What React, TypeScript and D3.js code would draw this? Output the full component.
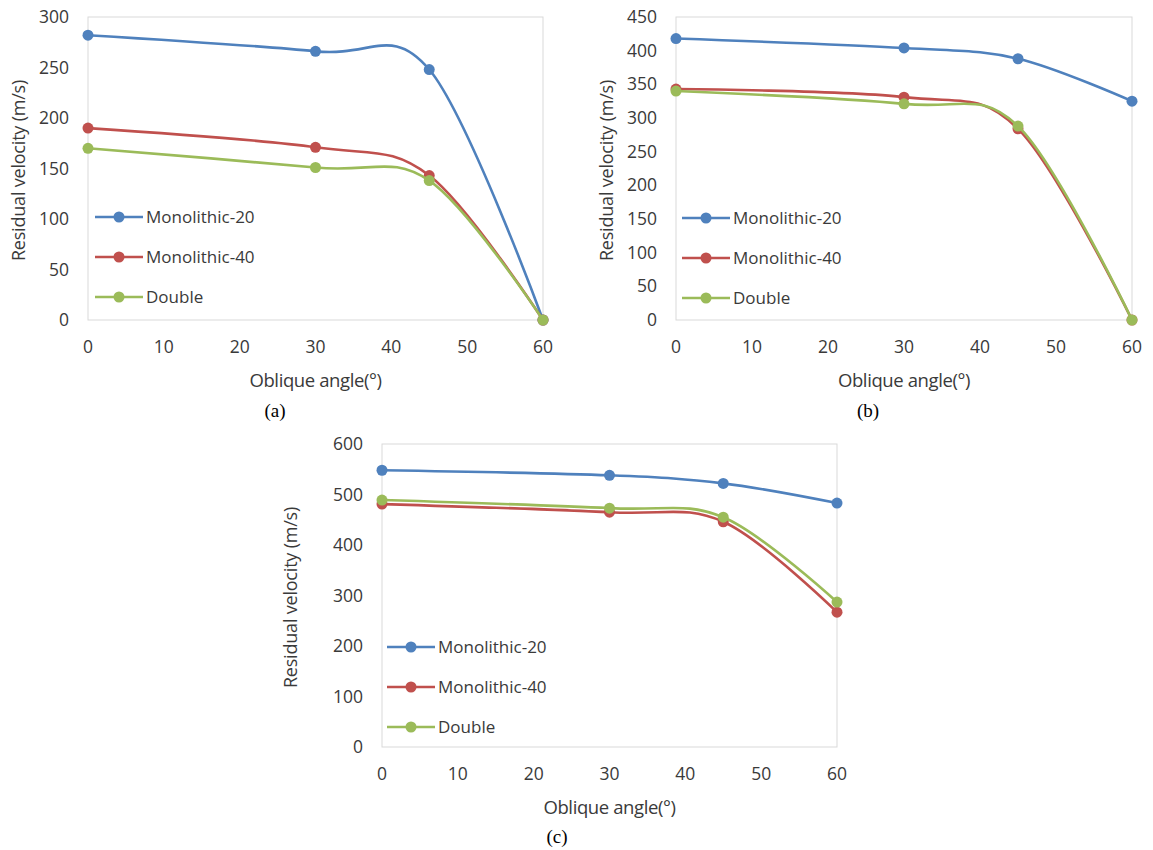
import React from "react";
import * as d3 from "d3";

// ---- Data ----
const angles = [0, 30, 45, 60];
const seriesNames = ["Monolithic-20", "Monolithic-40", "Double"];
const seriesColors = ["#4F81BD", "#C0504D", "#9BBB59"];

const mono20A = [282, 266, 248, 0];
const mono40A = [190, 171, 143, 0];
const doubleA = [170, 151, 138, 0];

const mono20B = [418, 404, 388, 325];
const mono40B = [343, 331, 284, 0];
const doubleB = [340, 321, 288, 0];

const mono20C = [548, 538, 522, 483];
const mono40C = [481, 465, 446, 267];
const doubleC = [489, 473, 455, 287];

const xTicks = [0, 10, 20, 30, 40, 50, 60];
const yTicksA = [0, 50, 100, 150, 200, 250, 300];
const yTicksB = [0, 50, 100, 150, 200, 250, 300, 350, 400, 450];
const yTicksC = [0, 100, 200, 300, 400, 500, 600];

const xTitle = "Oblique angle(°)";
const yTitle = "Residual velocity (m/s)";

type Panel = {
  label: string;
  x0: number; x1: number; y0: number; y1: number;
  yMax: number; yTicks: number[];
  series: number[][];
  legendX: number; legendY: number;
  yTitleX: number;
  labelX: number; labelY: number;
};

const panels: Panel[] = [
  { label: "(a)", x0: 88, x1: 543, y0: 17, y1: 320, yMax: 300, yTicks: yTicksA,
    series: [mono20A, mono40A, doubleA], legendX: 95, legendY: 217, yTitleX: 19, labelX: 275, labelY: 410 },
  { label: "(b)", x0: 676, x1: 1132, y0: 17, y1: 320, yMax: 450, yTicks: yTicksB,
    series: [mono20B, mono40B, doubleB], legendX: 682, legendY: 218, yTitleX: 607, labelX: 868, labelY: 410 },
  { label: "(c)", x0: 382, x1: 837, y0: 444, y1: 747, yMax: 600, yTicks: yTicksC,
    series: [mono20C, mono40C, doubleC], legendX: 387, legendY: 647, yTitleX: 291, labelX: 557, labelY: 836 },
];

const FONT = "'Open Sans', 'Noto Sans', sans-serif";
const TEXT = "#3a3a3a";

function PanelChart({ p }: { p: Panel }) {
  const x = d3.scaleLinear().domain([0, 60]).range([p.x0, p.x1]);
  const y = d3.scaleLinear().domain([0, p.yMax]).range([p.y1, p.y0]);
  const line = d3
    .line<[number, number]>()
    .x((d) => x(d[0]))
    .y((d) => y(d[1]))
    .curve(d3.curveCardinal.tension(0));
  const cy = (p.y0 + p.y1) / 2 + 2;
  return (
    <g>
      <rect x={p.x0} y={p.y0} width={p.x1 - p.x0} height={p.y1 - p.y0} fill="none" stroke="#D9D9D9" strokeWidth={1} />
      {p.yTicks.map((t) => (
        <text key={"y" + t} x={p.x0 - 19} y={y(t)} dy="0.35em" textAnchor="end" fontSize={17.5} fill={TEXT} fontFamily={FONT}>
          {t}
        </text>
      ))}
      {xTicks.map((t) => (
        <text key={"x" + t} x={x(t)} y={p.y1 + 27} dy="0.35em" textAnchor="middle" fontSize={17.5} fill={TEXT} fontFamily={FONT}>
          {t}
        </text>
      ))}
      <text x={(p.x0 + p.x1) / 2} y={p.y1 + 61} dy="0.35em" textAnchor="middle" fontSize={18.5} fill={TEXT} fontFamily={FONT} letterSpacing={-0.4}>
        {xTitle}
      </text>
      <text transform={`translate(${p.yTitleX},${cy}) rotate(-90)`} dy="0.35em" textAnchor="middle" fontSize={18} fill={TEXT} fontFamily={FONT} letterSpacing={-0.2}>
        {yTitle}
      </text>
      <text x={p.labelX} y={p.labelY} textAnchor="middle" fontSize={19} fill="#000" fontFamily="'Liberation Serif', 'DejaVu Serif', serif" dy="0.35em">
        {p.label}
      </text>
      {p.series.map((vals, i) => {
        const pts = angles.map((a, k) => [a, vals[k]] as [number, number]);
        return (
          <g key={"s" + i}>
            <path d={line(pts) || ""} fill="none" stroke={seriesColors[i]} strokeWidth={2.6} />
            {pts.map((d, k) => (
              <circle key={k} cx={x(d[0])} cy={y(d[1])} r={5.5} fill={seriesColors[i]} />
            ))}
          </g>
        );
      })}
      {seriesNames.map((n, i) => {
        const ly = p.legendY + i * 40;
        return (
          <g key={"l" + i}>
            <line x1={p.legendX} x2={p.legendX + 48} y1={ly} y2={ly} stroke={seriesColors[i]} strokeWidth={2.6} />
            <circle cx={p.legendX + 24} cy={ly} r={5.5} fill={seriesColors[i]} />
            <text x={p.legendX + 51} y={ly} dy="0.35em" fontSize={17} fill={TEXT} fontFamily={FONT}>
              {n}
            </text>
          </g>
        );
      })}
    </g>
  );
}

export default function App() {
  return (
    <div style={{ position: "absolute", left: 0, top: 0 }}>
      <svg width={1153} height={850} style={{ display: "block", background: "#fff" }}>
        {panels.map((p) => (
          <PanelChart key={p.label} p={p} />
        ))}
      </svg>
    </div>
  );
}
